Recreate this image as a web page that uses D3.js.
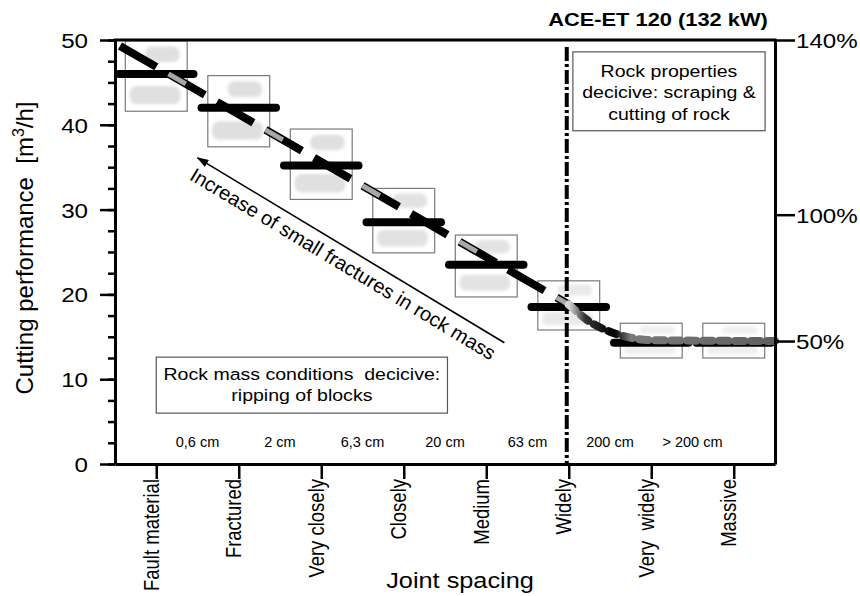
<!DOCTYPE html>
<html>
<head>
<meta charset="utf-8">
<script src="https://cdn.jsdelivr.net/npm/d3@7"></script>
<style>
  body { margin: 0; background: #fff; }
  svg { display: block; font-family: "Liberation Sans", Arial, sans-serif; }
  .pre { white-space: pre; }
</style>
</head>
<body>
<svg id="chart" width="860" height="596"></svg>
<script>
// values
var categories = ["Fault material", "Fractured", "Very closely", "Closely", "Medium", "Widely", "Very  widely", "Massive"];
var performance = [46, 42, 35.2, 28.5, 23.5, 18.5, 14.3, 14.3];
var rangeTop = [49.9, 45.8, 39.5, 32.5, 27.0, 21.6, 16.6, 16.6];
var rangeBottom = [41.6, 37.4, 31.2, 24.9, 19.7, 15.8, 12.5, 12.5];
var spacingLabels = ["0,6 cm", "2 cm", "6,3 cm", "20 cm", "63 cm", "200 cm", "> 200 cm"];
var trendIndex = [-0.44, 5.0];
var trendValue = [49.3, 18.8];
var tailIndex = [5.0, 5.25, 5.5, 5.75, 6.0, 7.5];
var tailValue = [18.8, 16.8, 15.6, 14.9, 14.6, 14.5];
var leftTicks = [0, 10, 20, 30, 40, 50];
var rightTickValues = [14.5, 29.4, 50];
var rightTickLabels = ["50%", "100%", "140%"];

var SX = 1.15; // source picture is a bit wider than tall

var svg = d3.select("#chart"),
    margin = {top: 40, right: 85, bottom: 132, left: 115},
    width = +svg.attr("width") - margin.left - margin.right,
    height = +svg.attr("height") - margin.top - margin.bottom;

var x = d3.scalePoint().domain(categories).range([0, width]).padding(0.5),
    xi = d3.scaleLinear().domain([0, categories.length - 1])
      .range([x(categories[0]), x(categories[categories.length - 1])]),
    y = d3.scaleLinear().domain([0, 50]).range([height, 0]);

var defs = svg.append("defs");
defs.append("filter").attr("id", "soft")
    .attr("x", "-20%").attr("y", "-40%").attr("width", "140%").attr("height", "180%")
  .append("feGaussianBlur").attr("stdDeviation", 1.6);

defs.append("marker").attr("id", "arrow")
    .attr("viewBox", "0 0 12 8").attr("refX", 11).attr("refY", 4)
    .attr("markerWidth", 12).attr("markerHeight", 8)
    .attr("markerUnits", "userSpaceOnUse").attr("orient", "auto")
  .append("path").attr("d", "M0,0L12,4L0,8z").attr("fill", "#000");

var tailGrad = defs.append("linearGradient").attr("id", "tail")
    .attr("gradientUnits", "userSpaceOnUse")
    .attr("x1", xi(5)).attr("x2", xi(7.5)).attr("y1", 0).attr("y2", 0);
[[0, "#d8d8d8"], [0.08, "#333"], [0.22, "#000"], [0.3, "#7a7a7a"], [1, "#5e5e5e"]].forEach(function(s) {
  tailGrad.append("stop").attr("offset", s[0]).attr("stop-color", s[1]);
});

var g = svg.append("g")
    .attr("transform", "translate(" + margin.left + "," + margin.top + ")");

// range boxes with the grey blobs inside
var bw = x.step() * 0.75;
var box = g.selectAll(".range")
    .data(categories)
    .enter().append("g")
    .attr("class", "range")
    .attr("transform", function(d, i) { return "translate(" + (x(d) - bw / 2) + "," + y(rangeTop[i]) + ")"; });

box.append("rect")
    .attr("width", bw)
    .attr("height", function(d, i) { return y(rangeBottom[i]) - y(rangeTop[i]); })
    .attr("fill", "#fff")
    .attr("stroke", "#7a7a7a")
    .attr("stroke-width", 1.2);

box.each(function(d, i) {
  var h = y(rangeBottom[i]) - y(rangeTop[i]),
      b = d3.select(this).append("g")
        .attr("filter", "url(#soft)")
        .attr("fill", "#dedede")
        .attr("opacity", Math.min(1, h / 75));
  b.append("rect").attr("x", bw * 0.32).attr("y", h * 0.08)
      .attr("width", bw * 0.56).attr("height", h * 0.22).attr("rx", h * 0.1);
  b.append("rect").attr("x", bw * 0.07).attr("y", h * 0.64)
      .attr("width", bw * 0.82).attr("height", h * 0.26).attr("rx", h * 0.1);
});

// performance steps
g.selectAll(".step")
    .data(categories)
    .enter().append("line")
    .attr("class", "step")
    .attr("x1", function(d) { return x(d) - x.step() / 2 + 4; })
    .attr("x2", function(d) { return x(d) + x.step() / 2 - 4; })
    .attr("y1", function(d, i) { return y(performance[i]); })
    .attr("y2", function(d, i) { return y(performance[i]); })
    .attr("stroke", "#000")
    .attr("stroke-width", 8)
    .attr("stroke-linecap", "round");

// dash-dot divider at "Widely"
g.append("line")
    .attr("x1", x("Widely") - 2).attr("x2", x("Widely") - 2)
    .attr("y1", 7).attr("y2", height)
    .attr("stroke", "#000")
    .attr("stroke-width", 4)
    .attr("stroke-dasharray", "14,3,3,3");

// trend line
var line = d3.line()
    .x(function(d) { return xi(d[0]); })
    .y(function(d) { return y(d[1]); });
var trendPts = d3.zip(trendIndex, trendValue),
    tailPts = d3.zip(tailIndex, tailValue);

g.append("path")
    .attr("d", line(trendPts))
    .attr("fill", "none")
    .attr("stroke", "#000")
    .attr("stroke-width", 8)
    .attr("stroke-dasharray", "42,14");
g.append("path")
    .attr("d", line(trendPts))
    .attr("fill", "none")
    .attr("stroke", "#a8a8a8")
    .attr("stroke-width", 5)
    .attr("stroke-dasharray", "20,92")
    .attr("stroke-dashoffset", 56);

g.append("path")
    .attr("d", line.curve(d3.curveMonotoneX)(tailPts))
    .attr("fill", "none")
    .attr("stroke", "url(#tail)")
    .attr("stroke-width", 8)
    .attr("stroke-linecap", "round")
    .attr("stroke-dasharray", "9,7");

// axes
function styleAxis(sel) {
  sel.select(".domain").attr("stroke-width", 3);
  sel.selectAll(".tick line").attr("stroke-width", 2.5);
}

g.append("g")
    .call(d3.axisLeft(y).tickValues(d3.range(0, 50.1, 2.5)).tickSize(7).tickSizeOuter(0).tickFormat(""))
    .call(styleAxis);

var yAxis = g.append("g")
    .call(d3.axisLeft(y).tickValues(leftTicks).tickSize(15).tickSizeOuter(0))
    .call(styleAxis);
yAxis.selectAll("text")
    .attr("x", 0).attr("dy", "0.36em")
    .attr("transform", "translate(-27,0) scale(" + SX + ",1)")
    .attr("text-anchor", "end")
    .attr("font-size", 21)
    .attr("font-family", null)
    .attr("fill", "#000");

var rAxis = g.append("g")
    .attr("transform", "translate(" + width + ",0)")
    .call(d3.axisRight(y).tickValues(rightTickValues)
      .tickFormat(function(d, i) { return rightTickLabels[i]; })
      .tickSize(20).tickSizeOuter(0))
    .call(styleAxis);
rAxis.selectAll("text")
    .attr("x", 0).attr("dy", "0.36em")
    .attr("transform", "translate(21,0) scale(" + SX + ",1)")
    .attr("font-size", 21)
    .attr("font-family", null)
    .attr("fill", "#000");

var xAxis = g.append("g")
    .attr("transform", "translate(0," + height + ")")
    .call(d3.axisBottom(x).tickSize(15).tickSizeOuter(0))
    .call(styleAxis);
xAxis.selectAll("text")
    .attr("class", "pre")
    .attr("x", 0).attr("y", 0).attr("dy", 0)
    .attr("transform", "translate(2,15) scale(" + SX + ",1) rotate(-90)")
    .attr("text-anchor", "end")
    .attr("font-size", 18.5)
    .attr("font-family", null)
    .attr("fill", "#000");

g.append("line")
    .attr("x1", -1.5).attr("x2", width + 1.5)
    .attr("y1", 0).attr("y2", 0)
    .attr("stroke", "#000").attr("stroke-width", 3);

// joint spacing sizes between the categories
g.selectAll(".size")
    .data(spacingLabels)
    .enter().append("text")
    .attr("class", "size")
    .attr("x", function(d, i) { return xi(i + 0.5); })
    .attr("y", y(2))
    .attr("text-anchor", "middle")
    .attr("font-size", 14.5)
    .text(function(d) { return d; });

// annotation boxes
function noteBox(x0, x1, v0, v1, lines, base, gap) {
  g.append("rect")
      .attr("x", x0).attr("y", y(v0))
      .attr("width", x1 - x0).attr("height", y(v1) - y(v0))
      .attr("fill", "#fff")
      .attr("stroke", "#555")
      .attr("stroke-width", 1.2);
  lines.forEach(function(t, k) {
    g.append("text")
        .attr("class", "pre")
        .attr("text-anchor", "middle")
        .attr("font-size", 17)
        .attr("transform", "translate(" + ((x0 + x1) / 2) + "," + (y(v0) + base + k * gap) + ") scale(" + SX + ",1)")
        .text(t);
  });
}
noteBox(xi(0), xi(3.53), 12.6, 6.0, ["Rock mass conditions  decicive:", "ripping of blocks"], 23, 21);
noteBox(xi(5.05), xi(7.38), 48.6, 39.3, ["Rock properties", "decicive: scraping &", "cutting of rock"], 25, 21.5);

// arrow with its caption
g.append("line")
    .attr("x1", xi(4.22)).attr("y1", y(14.3))
    .attr("x2", xi(0.5)).attr("y2", y(36.1))
    .attr("stroke", "#000")
    .attr("stroke-width", 1.6)
    .attr("marker-end", "url(#arrow)");
var ang = Math.atan2(y(14.3) - y(36.1), xi(4.22) - xi(0.5)) * 180 / Math.PI;
g.append("text")
    .attr("text-anchor", "middle")
    .attr("font-size", 20)
    .attr("transform", "translate(" + xi(2.22) + "," + y(22.9) + ") rotate(" + ang + ")")
    .text("Increase of small fractures in rock mass");

// titles
svg.append("text")
    .attr("text-anchor", "middle")
    .attr("font-size", 19)
    .attr("font-weight", "bold")
    .attr("transform", "translate(658,26) scale(" + SX + ",1)")
    .text("ACE-ET 120 (132 kW)");

var yTitle = svg.append("text")
    .attr("class", "pre")
    .attr("text-anchor", "middle")
    .attr("font-size", 24)
    .attr("transform", "translate(33,248) rotate(-90)");
yTitle.append("tspan").text("Cutting performance  [m");
yTitle.append("tspan").attr("font-size", 16).attr("dy", -9).text("3");
yTitle.append("tspan").attr("dy", 9).text("/h]");

svg.append("text")
    .attr("text-anchor", "middle")
    .attr("font-size", 22)
    .attr("transform", "translate(460,588) scale(" + SX + ",1)")
    .text("Joint spacing");
</script>
</body>
</html>
